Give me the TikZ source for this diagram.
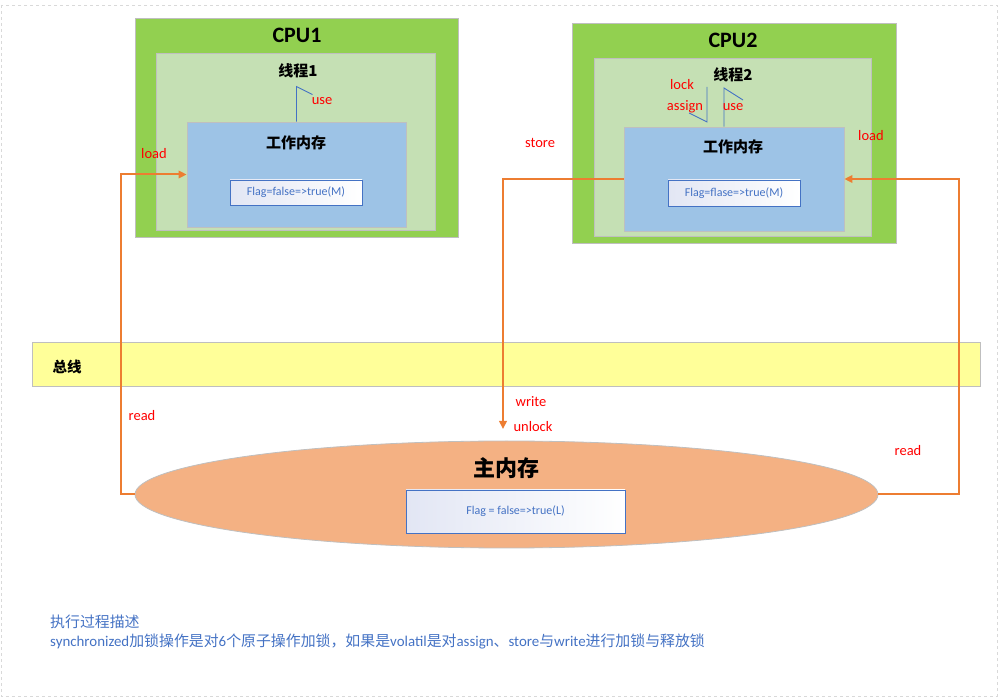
\documentclass[tikz,border=0pt]{standalone}
\usepackage{fontspec}
\setmainfont{Carlito}
\newfontfamily\cjk{Noto Sans CJK SC}
\usetikzlibrary{shapes.geometric,arrows.meta}
\definecolor{cpugreen}{RGB}{146,208,80}
\definecolor{thrgreen}{RGB}{197,224,180}
\definecolor{wmblue}{RGB}{157,195,230}
\definecolor{busyel}{RGB}{255,255,153}
\definecolor{memor}{RGB}{244,177,131}
\definecolor{edgegray}{RGB}{191,191,191}
\definecolor{arrowor}{RGB}{237,125,49}
\definecolor{lineblue}{RGB}{68,114,196}
\definecolor{gradl}{RGB}{226,230,244}
\definecolor{lblred}{RGB}{255,0,0}
\tikzset{
  box/.style={draw=edgegray,line width=0.8pt,inner sep=0pt},
  cpubox/.style={box,fill=cpugreen},
  thrbox/.style={box,fill=thrgreen},
  wmbox/.style={box,fill=wmblue},
  flagbox/.style={draw=lineblue,line width=0.9pt,left color=gradl,right color=white,inner sep=0pt,
    font=\fontsize{12}{14}\selectfont,text=lineblue},
  title/.style={font=\bfseries\fontsize{22}{25}\selectfont},
  zhtitle/.style={font=\cjk\bfseries\fontsize{15}{17}\selectfont},
  lbl/.style={text=lblred,font=\fontsize{14.5}{16}\selectfont,inner sep=0pt},
  flow/.style={draw=arrowor,line width=2pt},
  flowarrow/.style={flow,-{Triangle[length=8pt,width=7.5pt]}},
  half/.style={draw=lineblue,line width=0.9pt},
}
\begin{document}
\begin{tikzpicture}[x=1pt,y=-1pt]
\useasboundingbox (0,0) rectangle (1005,700);
\draw[draw={rgb,255:red,217;green,217;blue,217},dashed,line width=0.8pt] (1,5) rectangle (997,696);

% CPU1
\node[cpubox,minimum width=323pt,minimum height=219pt] (cpu1) at (296.5,127.5) {};
\node[title] (cpu1t) at (297,35) {CPU1};
\node[thrbox,minimum width=279pt,minimum height=177pt] (thr1) at (295.5,141.5) {};
\node[zhtitle] (thr1t) at (298,71) {线程1};
\node[wmbox,minimum width=219pt,minimum height=105pt] (wm1) at (296.5,174.5) {};
\node[zhtitle] (wm1t) at (296,143) {工作内存};
\node[flagbox,minimum width=132pt,minimum height=25pt] (flag1) at (296,192.5) {Flag=false=>true(M)};
\draw[half] (wm1.north) -- ++(0,-35) -- ++(16,8);
\node[lbl] (use1) at (322,101) {use};

% CPU2
\node[cpubox,minimum width=324pt,minimum height=220pt] (cpu2) at (734,133) {};
\node[title] (cpu2t) at (733,40) {CPU2};
\node[thrbox,minimum width=277pt,minimum height=178pt] (thr2) at (732.5,147) {};
\node[zhtitle] (thr2t) at (733,75) {线程2};
\node[wmbox,minimum width=220pt,minimum height=104pt] (wm2) at (734,179) {};
\node[zhtitle] (wm2t) at (733,147) {工作内存};
\node[flagbox,minimum width=132pt,minimum height=26pt] (flag2) at (734,193) {Flag=flase=>true(M)};
\coordinate (asgtop) at (707,87);
\coordinate (asgbot) at (707,122);
\coordinate (asgtip) at (689,113);
\draw[half] (asgtop) -- (asgbot) -- (asgtip);
\coordinate (use2top) at (724,88);
\coordinate (use2tip) at (743,100);
\draw[half] (wm2.north -| use2top) -- (use2top) -- (use2tip);
\node[lbl] (lock) at (682,85) {lock};
\node[lbl] (assign) at (685,107) {assign};
\node[lbl] (use2) at (733,107) {use};
\node[lbl] (store) at (540,143) {store};
\node[lbl] (load2) at (871,136) {load};

% Bus
\node[box,fill=busyel,minimum width=948pt,minimum height=44pt] (bus) at (506,364) {};
\node[font=\cjk\bfseries\fontsize{14.5}{16}\selectfont] (bust) at (67,367) {总线};

% Main memory
\node[ellipse,draw=edgegray,line width=0.8pt,fill=memor,minimum width=743pt,minimum height=107pt,inner sep=0pt] (mem) at (506.5,494.5) {};
\node[font=\cjk\bfseries\fontsize{22}{25}\selectfont] (memt) at (506,468) {主内存};
\node[flagbox,minimum width=219pt,minimum height=43pt] (flag3) at (515.5,511.5) {Flag = false=>true(L)};

% flows
\coordinate (leftcorner) at (121,494.5);
\draw[flowarrow] (mem.west) -- (leftcorner) |- (wm1.west);
\node[lbl] (load1) at (154,154) {load};
\node[lbl] (read1) at (142,416) {read};

\coordinate (rightcorner) at (959,494.5);
\draw[flowarrow] (mem.east) -- (rightcorner) |- (wm2.east);
\node[lbl] (read2) at (908,451) {read};

\coordinate (storeend) at (503,429);
\draw[flowarrow] (wm2.west) -| (storeend);
\node[lbl] (write) at (531,402) {write};
\node[lbl] (unlock) at (533,427) {unlock};

% description
\node[anchor=west,text=lineblue,font=\fontsize{14.9}{16}\selectfont,inner sep=0pt] (desc1) at (50,622) {\cjk 执行过程描述};
\node[anchor=west,text=lineblue,font=\fontsize{14.9}{16}\selectfont,inner sep=0pt] (desc2) at (50,641) {synchronized{\cjk 加锁操作是对}6{\cjk 个原子操作加锁，如果是}volatil{\cjk 是对}assign{\cjk 、}store{\cjk 与}write{\cjk 进行加锁与释放锁}};
\end{tikzpicture}
\end{document}
